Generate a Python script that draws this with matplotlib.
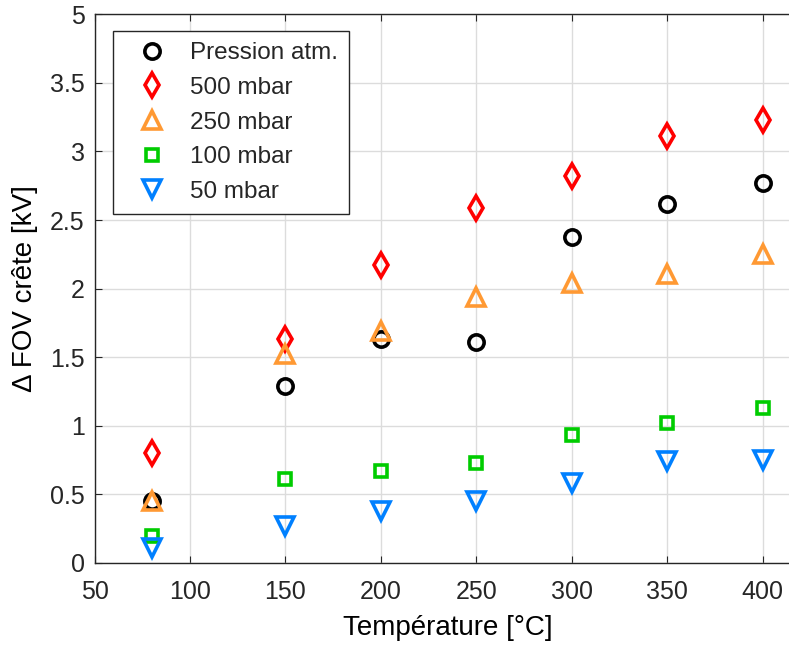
import matplotlib as mpl
mpl.use('Agg')
import matplotlib.pyplot as plt
import numpy as np

mpl.rcParams.update({
    'font.family': ['Liberation Sans', 'DejaVu Sans'],
    'axes.edgecolor': '#262626',
    'xtick.color': '#262626',
    'ytick.color': '#262626',
    'text.color': '#262626',
})

# données
temperature = [80, 150, 200, 250, 300, 350, 400]
p_atm = [0.45, 1.29, 1.63, 1.61, 2.38, 2.62, 2.77]
p_500 = [0.80, 1.63, 2.17, 2.59, 2.82, 3.11, 3.23]
p_250 = [0.45, 1.52, 1.69, 1.94, 2.04, 2.11, 2.25]
p_100 = [0.20, 0.61, 0.67, 0.73, 0.93, 1.02, 1.13]
p_50 = [0.11, 0.27, 0.38, 0.45, 0.58, 0.74, 0.75]

series_labels = ['Pression atm.', '500 mbar', '250 mbar', '100 mbar', '50 mbar']
x_ticks = [50, 100, 150, 200, 250, 300, 350, 400]
y_ticks = [0, 0.5, 1, 1.5, 2, 2.5, 3, 3.5, 4]
y_ticklabels = ['0', '0.5', '1', '1.5', '2', '2.5', '3', '3.5', '5']

styles = [
    dict(marker='o', color='black', ms=11),
    dict(marker='d', color='#FF0000', ms=12),
    dict(marker='^', color='#FF9933', ms=13),
    dict(marker='s', color='#00CC00', ms=8),
    dict(marker='v', color='#0080FF', ms=13),
]

fig = plt.figure(figsize=(7.89, 6.46), dpi=100)
ax = fig.add_axes([0.1198, 0.1285, 0.895, 0.8494])

for vals, lab, st in zip([p_atm, p_500, p_250, p_100, p_50], series_labels, styles):
    ax.plot(temperature, vals, linestyle='none', marker=st['marker'], ms=st['ms'],
            markerfacecolor='none', markeredgecolor=st['color'], markeredgewidth=2.6,
            label=lab)

ax.set_xlim(50, 420)
ax.set_ylim(0, 4)
ax.set_xticks(x_ticks)
ax.set_yticks(y_ticks)
ax.set_yticklabels(y_ticklabels)
ax.tick_params(direction='in', length=5, width=0.8, labelsize=18, top=True, right=True, pad=7)
ax.tick_params(axis='x', pad=12)
ax.grid(True, color='#DCDCDC', lw=1.0)
ax.set_axisbelow(True)
for s in ax.spines.values():
    s.set_linewidth(1.0)

ax.set_xlabel('Température [°C]', fontsize=20, labelpad=8)
ax.set_ylabel('Δ FOV crête [kV]', fontsize=20, labelpad=9)

leg = ax.legend(loc='upper left', bbox_to_anchor=(0.0258, 0.969), fontsize=17.5,
                frameon=True, fancybox=False, edgecolor='#262626', framealpha=1,
                borderpad=0.45, labelspacing=0.52, handletextpad=0.42, handlelength=2.3,
                borderaxespad=0)
leg.get_frame().set_linewidth(1.0)

fig.savefig('out.png', dpi=100)
